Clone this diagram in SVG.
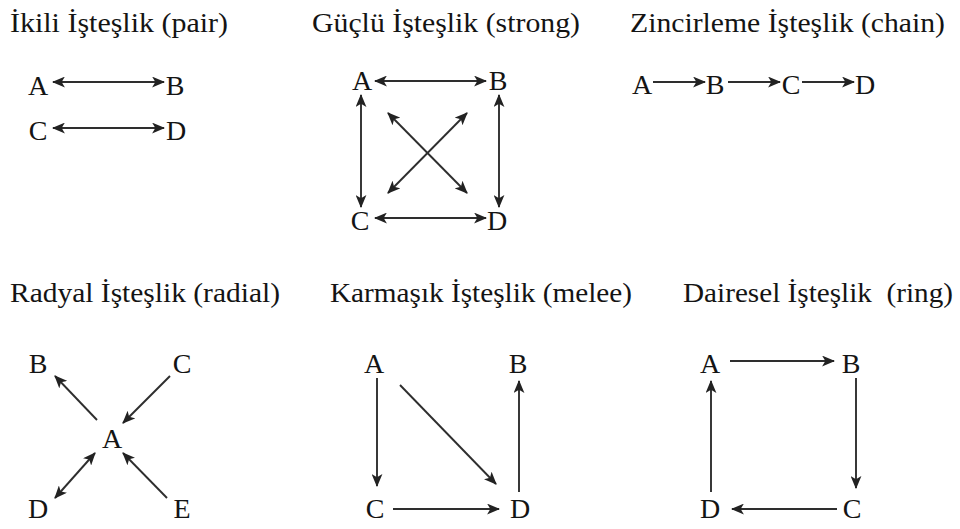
<svg xmlns="http://www.w3.org/2000/svg" width="960" height="529" viewBox="0 0 960 529">
<defs>
<marker id="ah" viewBox="0 0 12 10" refX="11" refY="5" markerWidth="13" markerHeight="11" markerUnits="userSpaceOnUse" orient="auto-start-reverse">
<path d="M0,0 L12,5 L0,10 L3,5 z" fill="#222"/>
</marker>
</defs>
<style>
.t{font-family:"Liberation Serif","DejaVu Serif",serif;font-size:27.5px;fill:#141414}
.n{font-family:"Liberation Serif","DejaVu Serif",serif;font-size:28px;fill:#141414;text-anchor:middle}
.e{stroke:#2e2e2e;stroke-width:1.9;fill:none;marker-end:url(#ah)}
.d{marker-start:url(#ah)}
</style>
<rect width="960" height="529" fill="#fff"/>
<g id="titles">
<text class="t" x="10" y="32" textLength="218" lengthAdjust="spacingAndGlyphs">İkili İşteşlik (pair)</text>
<text class="t" x="312" y="32" textLength="268" lengthAdjust="spacingAndGlyphs">Güçlü İşteşlik (strong)</text>
<text class="t" x="630" y="32" textLength="315" lengthAdjust="spacingAndGlyphs">Zincirleme İşteşlik (chain)</text>
<text class="t" x="10" y="302" textLength="270" lengthAdjust="spacingAndGlyphs">Radyal İşteşlik (radial)</text>
<text class="t" x="330" y="302" textLength="302" lengthAdjust="spacingAndGlyphs">Karmaşık İşteşlik (melee)</text>
<text class="t" x="683" y="302" textLength="270" lengthAdjust="spacingAndGlyphs" xml:space="preserve">Dairesel İşteşlik  (ring)</text>
</g>
<g id="pair">
<g id="p1-A"><text class="n" x="38" y="95">A</text></g>
<g id="p1-B"><text class="n" x="175" y="95">B</text></g>
<g id="p1-C"><text class="n" x="38" y="140">C</text></g>
<g id="p1-D"><text class="n" x="176" y="140">D</text></g>
</g>
<g id="strong">
<g id="p2-A"><text class="n" x="362" y="90">A</text></g>
<g id="p2-B"><text class="n" x="498" y="90">B</text></g>
<g id="p2-C"><text class="n" x="360" y="230">C</text></g>
<g id="p2-D"><text class="n" x="497" y="230">D</text></g>
</g>
<g id="chain">
<g id="p3-A"><text class="n" x="642" y="94">A</text></g>
<g id="p3-B"><text class="n" x="715" y="94">B</text></g>
<g id="p3-C"><text class="n" x="791" y="94">C</text></g>
<g id="p3-D"><text class="n" x="865" y="94">D</text></g>
</g>
<g id="radial">
<g id="p4-B"><text class="n" x="38" y="373">B</text></g>
<g id="p4-C"><text class="n" x="182" y="373">C</text></g>
<g id="p4-A"><text class="n" x="112" y="448">A</text></g>
<g id="p4-D"><text class="n" x="38" y="518">D</text></g>
<g id="p4-E"><text class="n" x="182" y="518">E</text></g>
</g>
<g id="melee">
<g id="p5-A"><text class="n" x="374" y="373">A</text></g>
<g id="p5-B"><text class="n" x="518" y="373">B</text></g>
<g id="p5-C"><text class="n" x="375" y="518">C</text></g>
<g id="p5-D"><text class="n" x="520" y="518">D</text></g>
</g>
<g id="ring">
<g id="p6-A"><text class="n" x="710" y="373">A</text></g>
<g id="p6-B"><text class="n" x="851" y="373">B</text></g>
<g id="p6-D"><text class="n" x="710" y="518">D</text></g>
<g id="p6-C"><text class="n" x="852" y="518">C</text></g>
</g>
<g id="connectors">
<line class="e d" x1="53" y1="82" x2="164" y2="82"/>
<line class="e d" x1="53" y1="128" x2="164" y2="128"/>
<line class="e d" x1="375" y1="81" x2="486" y2="81"/>
<line class="e d" x1="375" y1="218" x2="486" y2="218"/>
<line class="e d" x1="361" y1="95" x2="361" y2="207"/>
<line class="e d" x1="499" y1="95" x2="499" y2="207"/>
<line class="e d" x1="388" y1="113" x2="467" y2="193"/>
<line class="e d" x1="467" y1="113" x2="388" y2="193"/>
<line class="e" x1="653" y1="82" x2="705" y2="82"/>
<line class="e" x1="728" y1="82" x2="780" y2="82"/>
<line class="e" x1="802" y1="82" x2="854" y2="82"/>
<line class="e" x1="97" y1="420" x2="55" y2="376"/>
<line class="e" x1="170" y1="376" x2="123" y2="423"/>
<line class="e d" x1="55" y1="498" x2="95" y2="453"/>
<line class="e" x1="167" y1="498" x2="123" y2="453"/>
<line class="e" x1="377" y1="378" x2="377" y2="486"/>
<line class="e" x1="400" y1="385" x2="496" y2="484"/>
<line class="e" x1="393" y1="509" x2="499" y2="509"/>
<line class="e" x1="519" y1="492" x2="519" y2="381"/>
<line class="e" x1="730" y1="361" x2="834" y2="361"/>
<line class="e" x1="856" y1="378" x2="856" y2="488"/>
<line class="e" x1="837" y1="509" x2="732" y2="509"/>
<line class="e" x1="711" y1="492" x2="711" y2="381"/>
</g>
</svg>
